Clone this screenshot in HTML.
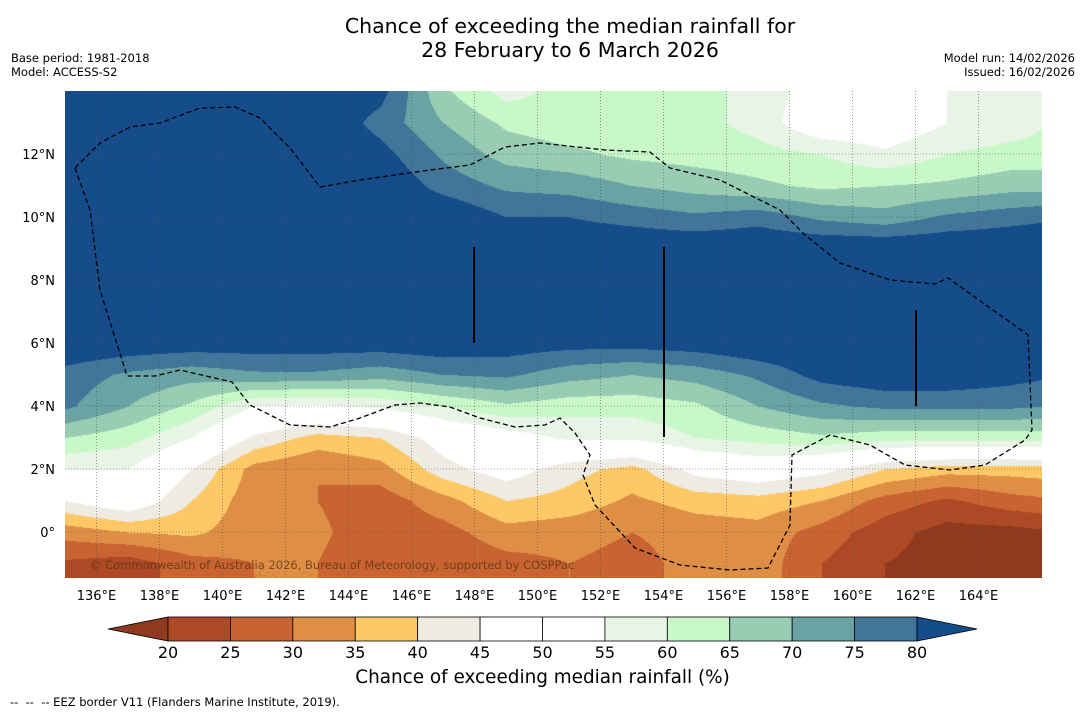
<!DOCTYPE html>
<html><head><meta charset="utf-8">
<style>
body{margin:0;background:#fff;width:1085px;height:713px;overflow:hidden;font-family:"DejaVu Sans","Liberation Sans",sans-serif;position:relative}
.t{position:absolute;white-space:nowrap}
</style></head><body>
<div class="t" style="left:0;width:1140px;text-align:center;top:14px;font-size:20.5px;line-height:24px">Chance of exceeding the median rainfall for<br>28 February to 6 March 2026</div>
<div class="t" style="left:11px;top:51px;font-size:11.5px;line-height:14px">Base period: 1981-2018<br>Model: ACCESS-S2</div>
<div class="t" style="right:10px;top:51px;font-size:11.5px;line-height:14px;text-align:right">Model run: 14/02/2026<br>Issued: 16/02/2026</div>
<canvas id="map" width="977" height="487" style="position:absolute;left:65px;top:91px"></canvas>
<svg id="ov" width="1085" height="713" style="position:absolute;left:0;top:0"></svg>
<div class="t" style="left:90px;top:558px;font-size:11.5px;color:rgba(90,50,20,0.75)">© Commonwealth of Australia 2026, Bureau of Meteorology, supported by COSPPac</div>
<div class="t" style="left:0;width:1085px;text-align:center;top:667px;font-size:18.4px">Chance of exceeding median rainfall (%)</div>
<div class="t" style="left:10px;top:695px;font-size:11.5px">-- &nbsp;-- &nbsp;-- EEZ border V11 (Flanders Marine Institute, 2019).</div>
<script>
const lats=[14,13,12,11,10,9,8,7,6,5,4,3,2,1,0,-1,-2];
const lons=[135,137,139,141,143,145,147,149,151,153,155,157,159,161,163,165,167];
const grid=[
[85,85,85,85,85,82,66,58,62,63,62,58,52,50,55,57,58],
[85,85,85,85,85,78,70,64,62,63,62,58,50,50,55,57,62],
[85,85,85,85,85,82,74,68,66,64,63,62,60,56,60,62,62],
[85,85,85,85,85,85,78,74,73,70,68,66,64,65,66,68,68],
[85,85,85,85,85,85,85,80,80,78,76,78,74,72,76,78,80],
[85,85,85,85,85,85,85,85,85,85,85,85,85,85,85,85,85],
[85,85,85,85,85,85,85,85,85,85,85,85,85,85,85,85,85],
[85,85,85,85,85,85,85,85,85,85,85,85,85,85,85,85,85],
[85,84,83,83,83,83,84,83,82,82,83,85,85,85,85,85,85],
[78,74,72,74,74,72,75,76,72,70,72,76,82,84,84,82,80],
[76,70,64,55,54,56,60,64,62,62,64,70,74,76,76,76,74],
[65,62,55,44,38,40,48,52,56,56,60,62,64,62,62,62,62],
[55,55,45,33,30,33,43,48,42,38,47,50,47,40,37,37,38],
[45,50,40,32,30,27,33,40,38,34,37,38,35,28,24,28,30],
[32,35,36,32,31,27,28,33,32,30,32,33,28,22,18,18,20],
[24,22,28,30,30,26,26,28,30,28,32,33,25,20,18,18,20],
[24,22,28,30,30,26,26,28,30,28,32,33,25,20,18,18,20]];
const levels=[20,25,30,35,40,45,50,55,60,65,70,75,80];
const colors=["#8f3a1e","#ad4a25","#c96432","#de8f45","#fdc865","#eeebe3","#ffffff","#ffffff","#e8f5e6","#c9f8c8","#98cdb4","#6aa3a4","#41769a","#144d8a"];
const PX=31.5, X0=65, Y0=91, LON0=135, LAT0=14;
const xs=lon=>X0+(lon-LON0)*PX, ys=lat=>Y0+(LAT0-lat)*PX;
function val(lon,lat){
  let c=(lon-lons[0])/(lons[1]-lons[0]), r=(lats[0]-lat)/(lats[0]-lats[1]);
  c=Math.max(0,Math.min(lons.length-1.001,c)); r=Math.max(0,Math.min(lats.length-1.001,r));
  const c0=Math.floor(c),r0=Math.floor(r),fc=c-c0,fr=r-r0;
  const a=grid[r0][c0],b=grid[r0][c0+1],d=grid[r0+1][c0],e=grid[r0+1][c0+1];
  return a*(1-fc)*(1-fr)+b*fc*(1-fr)+d*(1-fc)*fr+e*fc*fr;
}
const cv=document.getElementById('map'),ctx=cv.getContext('2d');
const img=ctx.createImageData(977,487);
const rgb=colors.map(h=>[parseInt(h.substr(1,2),16),parseInt(h.substr(3,2),16),parseInt(h.substr(5,2),16)]);
for(let py=0;py<487;py++)for(let px=0;px<977;px++){
  const v=val(LON0+px/PX,LAT0-py/PX);let k=0;while(k<levels.length&&v>=levels[k])k++;
  const c=rgb[k],i=(py*977+px)*4;img.data[i]=c[0];img.data[i+1]=c[1];img.data[i+2]=c[2];img.data[i+3]=255;}
ctx.putImageData(img,0,0);
const NS='http://www.w3.org/2000/svg',svg=document.getElementById('ov');
const FF='DejaVu Sans, Liberation Sans, sans-serif';
function mk(tag,attrs,parent){const e=document.createElementNS(NS,tag);for(const k in attrs)e.setAttribute(k,attrs[k]);(parent||svg).appendChild(e);return e;}
const lonTicks=[136,138,140,142,144,146,148,150,152,154,156,158,160,162,164];
const latTicks=[12,10,8,6,4,2,0];
lonTicks.forEach(l=>{
  const g=mk('line',{x1:xs(l),x2:xs(l),y1:91,y2:578,stroke:'#555','stroke-width':0.6,'stroke-dasharray':'1,2'});
  
  
  const t=mk('text',{x:xs(l),y:600,'text-anchor':'middle','font-size':13,'font-family':FF});
  t.textContent=l+'°E';
  
  
});
latTicks.forEach(l=>{
  const g=mk('line',{x1:65,x2:1042,y1:ys(l),y2:ys(l),stroke:'#555','stroke-width':0.6,'stroke-dasharray':'1,2'});
  
  
  const t=mk('text',{x:55,y:ys(l)+5,'text-anchor':'end','font-size':13,'font-family':FF});
  t.textContent=l===0?'0°':l+'°N';
  
  
});
const eez=[[75,168],[90,210],[100,290],[127,376],[155,376],[180,370],[232,382],[250,405],[290,425],[330,427],[360,418],[395,405],[420,403],[450,407],[480,418],[515,427],[545,425],[560,418],[575,433],[590,455],[583,475],[595,505],[635,548],[680,565],[730,570],[768,568],[790,525],[792,455],[830,435],[870,445],[905,465],[950,470],[985,465],[1025,440],[1032,430],[1028,335],[1000,315],[948,278],[935,284],[890,280],[840,263],[805,235],[780,210],[740,190],[720,180],[670,168],[650,152],[605,150],[540,143],[505,147],[470,165],[430,170],[360,180],[320,187],[290,148],[260,118],[235,107],[200,108],[160,123],[130,127],[100,143],[75,168]];
const ep=mk('polyline',{points:eez.map(p=>p.join(',')).join(' '),fill:'none',stroke:'#000','stroke-width':1.3,'stroke-dasharray':'5,3'});


[[474,247,343],[664,247,437],[916,310,406]].forEach(v=>{
  const l=mk('line',{x1:v[0],x2:v[0],y1:v[1],y2:v[2],stroke:'#000','stroke-width':2});
  
  
});
const cbX=168,cbW=(917-168)/12,cbY=617,cbH=24;
const lt=mk('polygon',{points:`108,629 ${cbX},${cbY} ${cbX},${cbY+cbH}`,fill:colors[0],stroke:'#000','stroke-width':0.8});


for(let i=0;i<12;i++){
  const r=mk('rect',{x:cbX+i*cbW,y:cbY,width:cbW,height:cbH,fill:colors[i+1],stroke:'#000','stroke-width':0.8});
  
  
}
const rt=mk('polygon',{points:`917,${cbY} 977,629 917,${cbY+cbH}`,fill:colors[13],stroke:'#000','stroke-width':0.8});


levels.forEach((lv,i)=>{
  const t=mk('text',{x:cbX+i*cbW,y:658,'text-anchor':'middle','font-size':16,'font-family':FF});
  t.textContent=lv;
  
  
});
</script>
</body></html>
